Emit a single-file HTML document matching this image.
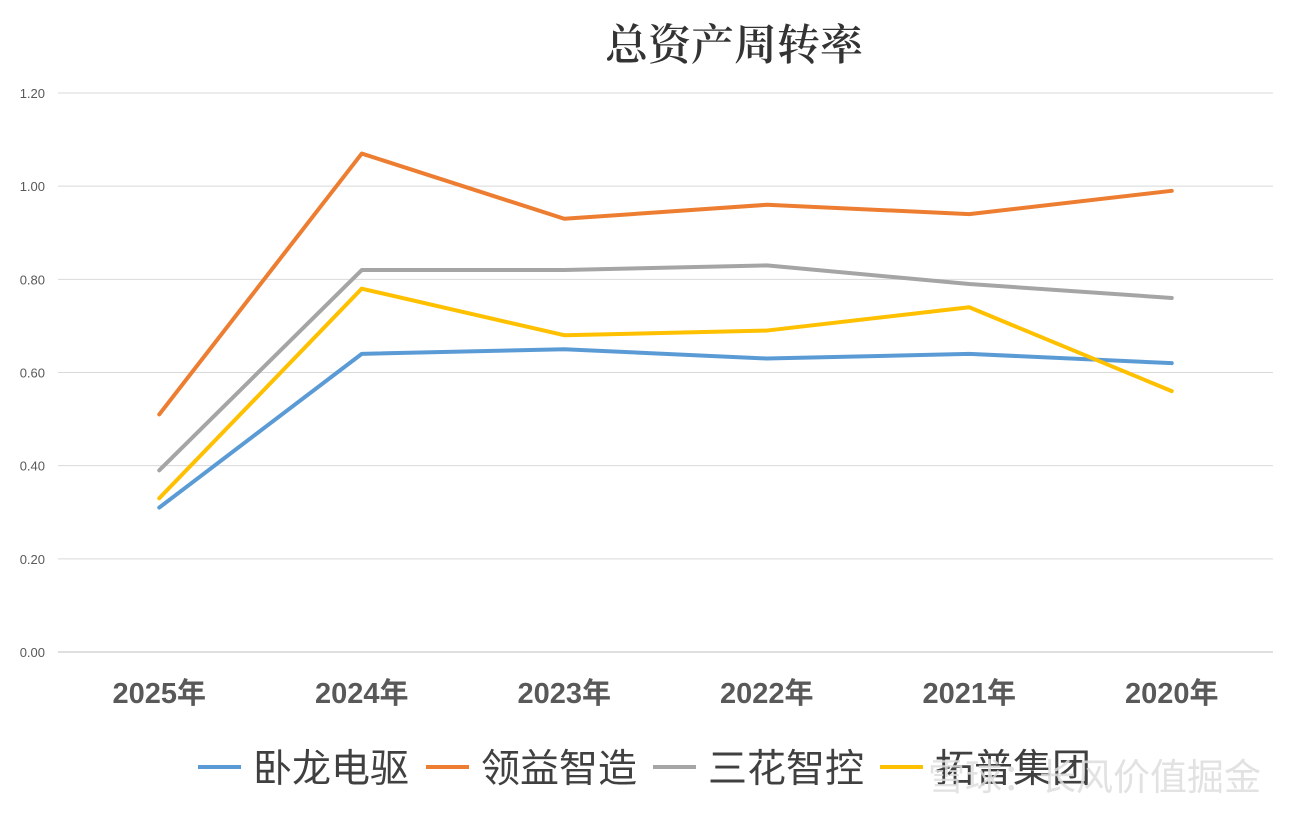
<!DOCTYPE html>
<html><head><meta charset="utf-8">
<style>
html,body{margin:0;padding:0;background:#fff;}
body{width:1295px;height:817px;overflow:hidden;font-family:"Liberation Sans","Noto Sans CJK SC",sans-serif;}
</style></head>
<body>
<svg id="chart" width="1295" height="817" xmlns="http://www.w3.org/2000/svg">
<text x="734" y="60" text-anchor="middle" font-size="43" font-family="'Liberation Serif','Noto Serif CJK SC',serif" font-weight="600" fill="#333">总资产周转率</text>
<g id="grid"></g><g id="yt"></g><g id="xt"></g><g id="lines"></g>
<g font-size="39" fill="#404040" font-family="'Liberation Sans','Noto Sans CJK SC',sans-serif">
<line x1="198" y1="767" x2="241" y2="767" stroke="#5B9BD5" stroke-width="4"/><text x="253" y="782">卧龙电驱</text>
<line x1="426" y1="767" x2="469" y2="767" stroke="#ED7D31" stroke-width="4"/><text x="481" y="782">领益智造</text>
<line x1="653" y1="767" x2="696" y2="767" stroke="#A5A5A5" stroke-width="4"/><text x="708" y="782">三花智控</text>
<line x1="880" y1="767" x2="923" y2="767" stroke="#FFC000" stroke-width="4"/><text x="935" y="782">拓普集团</text>
</g>
<text x="928" y="790" font-size="37" fill="#ddd" opacity="0.85">雪球：长风价值掘金</text>
</svg>
<script>
const categories=["2025年","2024年","2023年","2022年","2021年","2020年"];
const yTicks=[0,0.2,0.4,0.6,0.8,1.0,1.2];
const wolong=[0.31,0.64,0.65,0.63,0.64,0.62];
const lingyi=[0.51,1.07,0.93,0.96,0.94,0.99];
const sanhua=[0.39,0.82,0.82,0.83,0.79,0.76];
const tuopu=[0.33,0.78,0.68,0.69,0.74,0.56];
const NS="http://www.w3.org/2000/svg";
const L=58,R=1273,T=93,B=652,YMAX=1.2;
const bw=(R-L)/categories.length;
const x=i=>L+bw*(i+0.5);
const y=v=>B-(v/YMAX)*(B-T);
function mk(tag,parent){const e=document.createElementNS(NS,tag);document.getElementById(parent).appendChild(e);return e;}
yTicks.forEach(t=>{
 const g=mk("line","grid");
 
 
 g.setAttribute("x1",L);g.setAttribute("x2",R);g.setAttribute("y1",y(t));g.setAttribute("y2",y(t));
 g.setAttribute("stroke",t===0?"#bfbfbf":"#d9d9d9");g.setAttribute("stroke-width","1");
 const tx=mk("text","yt");
 
 
 tx.setAttribute("x",45);tx.setAttribute("y",y(t)+5);tx.setAttribute("text-anchor","end");
 tx.setAttribute("font-size","13");tx.setAttribute("fill","#595959");tx.textContent=t.toFixed(2);
});
categories.forEach((c,i)=>{
 const tx=mk("text","xt");
 
 
 tx.setAttribute("x",x(i));tx.setAttribute("y",703);tx.setAttribute("text-anchor","middle");
 tx.setAttribute("font-size","29");tx.setAttribute("font-weight","bold");tx.setAttribute("fill","#595959");tx.textContent=c;
});
[[wolong,"#5B9BD5","line-wolong"],[lingyi,"#ED7D31","line-lingyi"],[sanhua,"#A5A5A5","line-sanhua"],[tuopu,"#FFC000","line-tuopu"]].forEach(([d,col,n])=>{
 const p=mk("polyline","lines");
 
 
 p.setAttribute("points",d.map((v,i)=>x(i)+","+y(v)).join(" "));
 p.setAttribute("fill","none");p.setAttribute("stroke",col);p.setAttribute("stroke-width","4");p.setAttribute("stroke-linejoin","round");p.setAttribute("stroke-linecap","round");
});
</script>
</body></html>
